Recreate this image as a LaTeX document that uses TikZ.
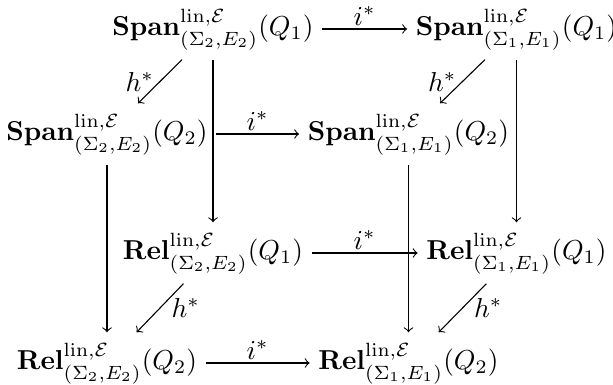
\documentclass[tikz,border=0pt]{standalone}
\usepackage{amsmath}
\begin{document}
\begin{tikzpicture}[x=0.365pt,y=-0.365pt,
  obj/.style={inner xsep=3pt,inner ysep=4pt,text height=9.5pt,text depth=4.5pt},
  arr/.style={->},
  ilab/.style={above,inner sep=1.2pt},
  hleft/.style={left,inner sep=2pt},
  hright/.style={right,inner sep=4pt}]
\useasboundingbox (0,0) rectangle (613,385);
\node[obj] (A) at (213,29) {$\mathbf{Span}^{\mathrm{lin},\mathcal{E}}_{(\Sigma_2,E_2)}(Q_1)$};
\node[obj] (B) at (516.5,29) {$\mathbf{Span}^{\mathrm{lin},\mathcal{E}}_{(\Sigma_1,E_1)}(Q_1)$};
\node[obj] (C) at (107,134) {$\mathbf{Span}^{\mathrm{lin},\mathcal{E}}_{(\Sigma_2,E_2)}(Q_2)$};
\node[obj] (D) at (408.5,134) {$\mathbf{Span}^{\mathrm{lin},\mathcal{E}}_{(\Sigma_1,E_1)}(Q_2)$};
\node[obj] (E) at (213,253) {$\mathbf{Rel}^{\mathrm{lin},\mathcal{E}}_{(\Sigma_2,E_2)}(Q_1)$};
\node[obj] (F) at (516.5,253) {$\mathbf{Rel}^{\mathrm{lin},\mathcal{E}}_{(\Sigma_1,E_1)}(Q_1)$};
\node[obj] (G) at (107,363) {$\mathbf{Rel}^{\mathrm{lin},\mathcal{E}}_{(\Sigma_2,E_2)}(Q_2)$};
\node[obj] (H) at (408.5,363) {$\mathbf{Rel}^{\mathrm{lin},\mathcal{E}}_{(\Sigma_1,E_1)}(Q_2)$};
% horizontal
\draw[arr] (A) -- node[ilab] {$i^*$} (B);
\draw[arr] (C) -- node[ilab] {$i^*$} (D);
\draw[arr] (E) -- node[ilab] {$i^*$} (F);
\draw[arr] (G) -- node[ilab] {$i^*$} (H);
% diagonal
\draw[arr] (A) -- node[hleft] {$h^*$} (C);
\draw[arr] (B) -- node[hleft] {$h^*$} (D);
\draw[arr] (E) -- node[hright] {$h^*$} (G);
\draw[arr] (F) -- node[hright] {$h^*$} (H);
% vertical
\draw[arr] (A) -- (E);
\draw[arr] (B) -- (F);
\draw[arr] (C) -- (G);
\draw[arr] (D) -- (H);
\end{tikzpicture}
\end{document}
